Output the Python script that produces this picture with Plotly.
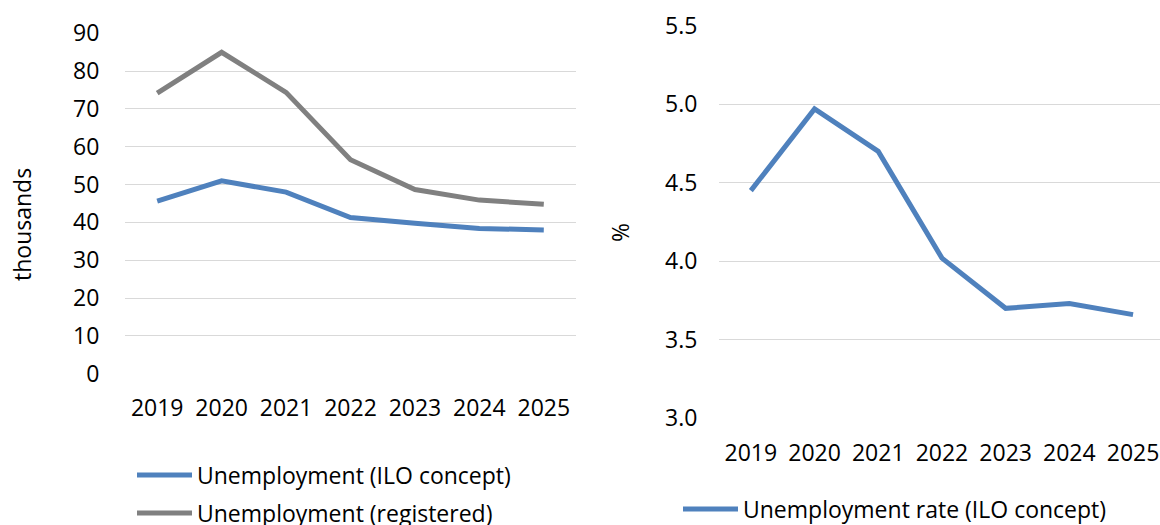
import plotly.graph_objects as go

W, H = 1160, 525

years = ["2019", "2020", "2021", "2022", "2023", "2024", "2025"]
ilo_thousands = [45.6, 51.0, 48.0, 41.3, 39.8, 38.4, 38.0]
registered_thousands = [74.2, 85.0, 74.4, 56.6, 48.7, 45.9, 44.8]
ilo_rate = [4.45, 4.97, 4.70, 4.02, 3.70, 3.73, 3.66]

left_ticks = [0, 10, 20, 30, 40, 50, 60, 70, 80, 90]
right_ticks = [3.0, 3.5, 4.0, 4.5, 5.0, 5.5]

BLUE = "#4F81BD"
GREY = "#808080"
GRID = "#D9D9D9"
FONT = "Open Sans"
FS = 23


def px(x):
    return x / W


def py(y):
    return 1 - y / H


fig = go.Figure()
fig.add_trace(go.Scatter(x=years, y=ilo_thousands, mode="lines",
                         line=dict(color=BLUE, width=5), xaxis="x", yaxis="y",
                         name="Unemployment (ILO concept)"))
fig.add_trace(go.Scatter(x=years, y=registered_thousands, mode="lines",
                         line=dict(color=GREY, width=5), xaxis="x", yaxis="y",
                         name="Unemployment (registered)"))
fig.add_trace(go.Scatter(x=years, y=ilo_rate, mode="lines",
                         line=dict(color=BLUE, width=5), xaxis="x2", yaxis="y2",
                         name="Unemployment rate (ILO concept)"))

tickfont = dict(family=FONT, size=FS, color="#000000")
common_x = dict(type="category", showgrid=False, zeroline=False, showline=False,
                ticks="outside", ticklen=13, tickcolor="rgba(0,0,0,0)",
                tickfont=tickfont, fixedrange=True, automargin=False)
common_y = dict(showgrid=True, gridcolor=GRID, gridwidth=1.3, zeroline=False,
                showline=False, ticks="outside",
                tickcolor="rgba(0,0,0,0)", tickfont=tickfont, fixedrange=True,
                automargin=False)

# right plot pitch ~63.7px, first category at x=751
right_left = 719
right_max = (W - right_left) / 63.7 - 0.5

fig.update_layout(
    width=W, height=H,
    margin=dict(l=0, r=0, t=0, b=0, autoexpand=False),
    paper_bgcolor="white", plot_bgcolor="white",
    showlegend=False,
    font=dict(family=FONT, size=FS, color="#000000"),
    xaxis=dict(domain=[px(125), px(576)], range=[-0.5, 6.5], anchor="y", **common_x),
    yaxis=dict(domain=[py(374), py(33)], range=[-0.1, 90.1], tickvals=left_ticks,
               anchor="x", ticklen=20, **common_y),
    xaxis2=dict(domain=[px(right_left), 1.0], range=[-0.5, right_max], anchor="y2", **common_x),
    yaxis2=dict(domain=[py(419), py(25)], range=[2.995, 5.505], tickvals=right_ticks,
                tickformat=".1f", anchor="x2", ticklen=16, **common_y),
)

annotations = [
    dict(text="thousands", x=px(22), y=py(225), xref="paper", yref="paper",
         textangle=-90, showarrow=False, xanchor="center", yanchor="middle"),
    dict(text="%", x=px(620), y=py(233), xref="paper", yref="paper",
         textangle=-90, showarrow=False, xanchor="center", yanchor="middle"),
]

legend_items = [
    (137, 192, 475, BLUE, "Unemployment (ILO concept)"),
    (137, 192, 513, GREY, "Unemployment (registered)"),
    (683, 738, 509, BLUE, "Unemployment rate (ILO concept)"),
]
shapes = []
for x0, x1, yy, col, label in legend_items:
    shapes.append(dict(type="line", xref="paper", yref="paper",
                       x0=px(x0), x1=px(x1), y0=py(yy), y1=py(yy),
                       line=dict(color=col, width=5)))
    annotations.append(dict(text=label, x=px(x1 + 3), y=py(yy), xref="paper", yref="paper",
                            showarrow=False, xanchor="left", yanchor="middle"))

fig.update_layout(annotations=annotations, shapes=shapes)

fig.write_html("out.html",
               config={"displayModeBar": False},
               post_script="document.body.style.margin='0';document.body.style.overflow='hidden';")
